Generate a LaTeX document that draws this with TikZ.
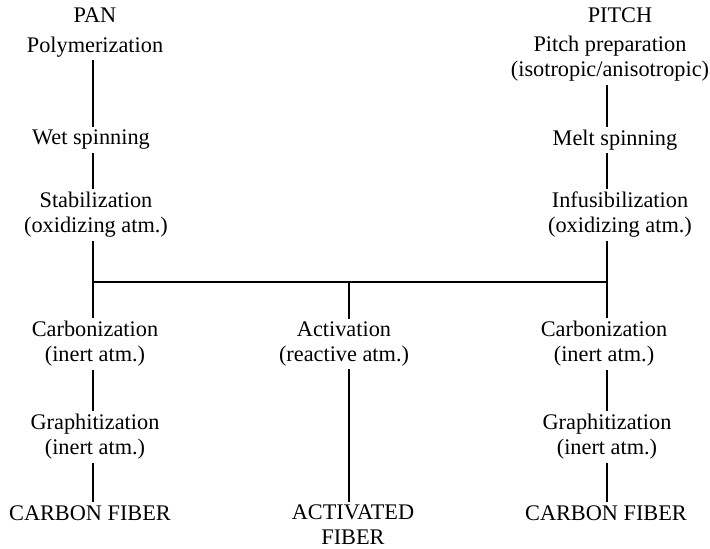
\documentclass[tikz,border=0pt]{standalone}
\usepackage{fontspec}
\setmainfont{Liberation Serif}
\usetikzlibrary{positioning}

\begin{document}
\begin{tikzpicture}[x=1pt, y=-1pt,
  stage/.style={font=\fontsize{22.3}{25}\selectfont, align=center, inner xsep=2pt, inner ysep=3pt},
  link/.style={draw=black, line width=1.2pt}]

\useasboundingbox (0,0) rectangle (710,549);

% Spines
\coordinate (lx) at (93,0);
\coordinate (mx) at (349,0);
\coordinate (rx) at (607,0);
\coordinate (bus) at (0,282);

% PAN column
\node[stage] (pan) at (95,15) {PAN};
\node[stage] (poly) at (95,47) {Polymerization};
\node[stage] (wet) at (91,140) {Wet spinning};
\node[stage] (stab) at (96,215) {Stabilization\\(oxidizing atm.)};

% PITCH column
\node[stage] (pitch) at (620,15) {PITCH};
\node[stage] (prep) at (610,59) {Pitch preparation\\(isotropic/anisotropic)};
\node[stage] (melt) at (615,140) {Melt spinning};
\node[stage] (infus) at (620,215) {Infusibilization\\(oxidizing atm.)};

% Lower stages
\node[stage] (carbL) at (95,344) {Carbonization\\(inert atm.)};
\node[stage] (graphL) at (95,437) {Graphitization\\(inert atm.)};
\node[stage] (fibL) at (90,513) {CARBON FIBER};

\node[stage] (act) at (344,344) {Activation\\(reactive atm.)};
\node[stage] (afib) at (353,525) {ACTIVATED\\FIBER};

\node[stage] (carbR) at (604,344) {Carbonization\\(inert atm.)};
\node[stage] (graphR) at (607,437) {Graphitization\\(inert atm.)};
\node[stage] (fibR) at (606,513) {CARBON FIBER};

% Connectors, left
\draw[link] (poly.south -| lx) -- (wet.north -| lx);
\draw[link] (wet.south -| lx) -- (stab.north -| lx);
\draw[link] (stab.south -| lx) -- (carbL.north -| lx);
\draw[link] (carbL.south -| lx) -- (graphL.north -| lx);
\draw[link] (graphL.south -| lx) -- (fibL.north -| lx);

% Connectors, right
\draw[link] (prep.south -| rx) -- (melt.north -| rx);
\draw[link] (melt.south -| rx) -- (infus.north -| rx);
\draw[link] (infus.south -| rx) -- (carbR.north -| rx);
\draw[link] (carbR.south -| rx) -- (graphR.north -| rx);
\draw[link] (graphR.south -| rx) -- (fibR.north -| rx);

% Cross bar and activation branch
\draw[link] (bus -| lx) -- (bus -| rx);
\draw[link] (bus -| mx) -- (act.north -| mx);
\draw[link] (act.south -| mx) -- (afib.north -| mx);

\end{tikzpicture}
\end{document}
